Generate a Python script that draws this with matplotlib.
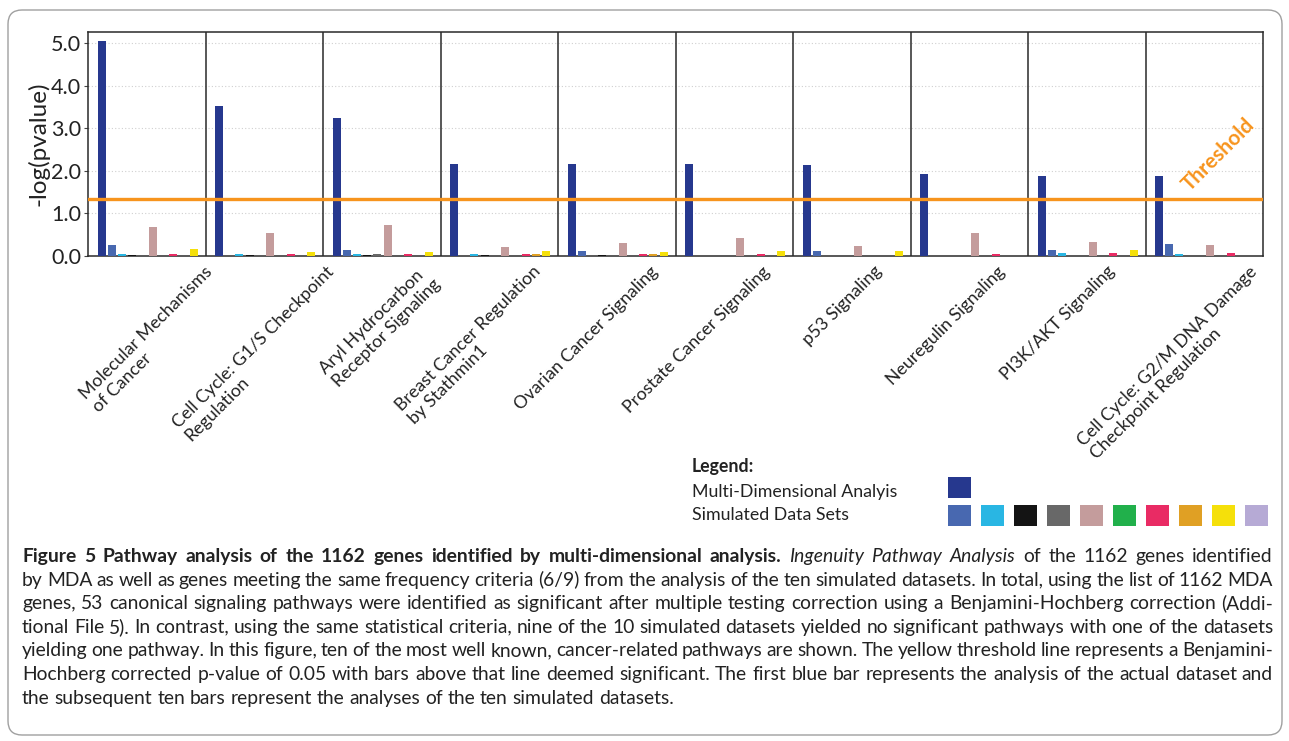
import matplotlib
matplotlib.use("Agg")
import matplotlib.pyplot as plt
from matplotlib.patches import FancyBboxPatch, Rectangle
from matplotlib.transforms import IdentityTransform
import numpy as np

FONT = "Lato"
plt.rcParams['font.family'] = [FONT, 'DejaVu Sans']

# ---------------- data ----------------
pathways = [
    "Molecular Mechanisms\nof Cancer",
    "Cell Cycle: G1/S Checkpoint\nRegulation",
    "Aryl Hydrocarbon\nReceptor Signaling",
    "Breast Cancer Regulation\nby Stathmin1",
    "Ovarian Cancer Signaling",
    "Prostate Cancer Signaling",
    "p53 Signaling",
    "Neuregulin Signaling",
    "PI3K/AKT Signaling",
    "Cell Cycle: G2/M DNA Damage\nCheckpoint Regulation",
]
mda_values = [5.05, 3.52, 3.23, 2.15, 2.15, 2.15, 2.13, 1.92, 1.89, 1.89]
sim_set_1 = [0.27, 0.00, 0.13, 0.00, 0.12, 0.00, 0.11, 0.00, 0.14, 0.28]
sim_set_2 = [0.05, 0.05, 0.05, 0.05, 0.00, 0.00, 0.00, 0.00, 0.06, 0.05]
sim_set_3 = [0.03, 0.03, 0.03, 0.03, 0.03, 0.00, 0.00, 0.00, 0.00, 0.00]
sim_set_4 = [0.00, 0.00, 0.05, 0.00, 0.00, 0.00, 0.00, 0.00, 0.00, 0.00]
sim_set_5 = [0.67, 0.55, 0.73, 0.22, 0.31, 0.42, 0.24, 0.55, 0.33, 0.25]
sim_set_6 = [0.00, 0.00, 0.00, 0.00, 0.00, 0.00, 0.00, 0.00, 0.00, 0.00]
sim_set_7 = [0.05, 0.05, 0.05, 0.05, 0.05, 0.05, 0.00, 0.05, 0.06, 0.06]
sim_set_8 = [0.00, 0.00, 0.00, 0.05, 0.05, 0.00, 0.00, 0.00, 0.00, 0.00]
sim_set_9 = [0.16, 0.10, 0.10, 0.12, 0.09, 0.12, 0.12, 0.00, 0.15, 0.00]
sim_set_10 = [0.00, 0.00, 0.00, 0.00, 0.00, 0.00, 0.00, 0.00, 0.00, 0.00]
threshold = 1.33
y_ticks = [0.0, 1.0, 2.0, 3.0, 4.0, 5.0]

mda_color = "#26388e"
sim_colors = ["#4868b0", "#29b6e3", "#141414", "#686868", "#c49c9c",
              "#21b04b", "#e92b64", "#e0a024", "#f5e00a", "#b6aad5"]
legend_title = "Legend:"
legend_mda = "Multi-Dimensional Analyis"
legend_sim = "Simulated Data Sets"

# label anchor offsets (layout, in group units, to top-right end of label)
label_dx = [0.49, 0.52, 0.32, 0.28, 0.28, 0.23, 0.19, 0.23, 0.17, 0.38]

caption = [
    [("Figure 5 Pathway analysis of the 1162 genes identified by multi-dimensional analysis.", "bold"),
     (" ", "normal"), ("Ingenuity Pathway Analysis", "italic"),
     (" of the 1162 genes identified", "normal")],
    [("by MDA as well as genes meeting the same frequency criteria (6/9) from the analysis of the ten simulated datasets. In total, using the list of 1162 MDA", "normal")],
    [("genes, 53 canonical signaling pathways were identified as significant after multiple testing correction using a Benjamini-Hochberg correction (Addi-", "normal")],
    [("tional File 5). In contrast, using the same statistical criteria, nine of the 10 simulated datasets yielded no significant pathways with one of the datasets", "normal")],
    [("yielding one pathway. In this figure, ten of the most well known, cancer-related pathways are shown. The yellow threshold line represents a Benjamini-", "normal")],
    [("Hochberg corrected p-value of 0.05 with bars above that line deemed significant. The first blue bar represents the analysis of the actual dataset and", "normal")],
    [("the subsequent ten bars represent the analyses of the ten simulated datasets.", "normal")],
]

# ---------------- figure ----------------
W, H = 1289, 741
fig = plt.figure(figsize=(W / 100, H / 100), dpi=100)
fig.patch.set_facecolor("white")

def px(x, y):
    return x / W, 1 - y / H

ax = fig.add_axes([88 / W, 1 - 256 / H, (1263 - 88) / W, (256 - 32) / H])
n = len(pathways)
series = [mda_values, sim_set_1, sim_set_2, sim_set_3, sim_set_4, sim_set_5,
          sim_set_6, sim_set_7, sim_set_8, sim_set_9, sim_set_10]
colors = [mda_color] + sim_colors
first_off, step, bw = 0.115, 0.087, 0.068
groups = np.arange(n)
for k, (vals, c) in enumerate(zip(series, colors)):
    ax.bar(groups + first_off + k * step, vals, width=bw, color=c, linewidth=0, zorder=3)

ax.set_xlim(0, n)
ax.set_ylim(0, 5.26)
ax.set_xticks([])
ax.set_yticks(y_ticks)
ax.set_yticklabels([f"{v:.1f}" for v in y_ticks], fontsize=15.5, color="#222222")
ax.tick_params(axis="y", length=3, width=0.8, color="#444444", pad=2)
for v in y_ticks[1:]:
    ax.axhline(v, color="#d0d0d0", lw=0.8, ls=(0, (1, 2)), zorder=1)
for i in range(1, n):
    ax.axvline(i, color="#2a2a2a", lw=1.1, zorder=4)
for s in ax.spines.values():
    s.set_color("#2a2a2a")
    s.set_linewidth(1.1)
ax.axhline(threshold, color="#f7941d", lw=2.4, zorder=5)
ax.text(9.62, 2.37, "Threshold", rotation=45, ha="center", va="center",
        fontsize=15, fontweight="bold", color="#f7941d", zorder=6)
ax.set_ylabel("-log(pvalue)", fontsize=17.5, color="#222222")
ax.yaxis.set_label_coords(-0.033, 0.5)

# category labels
for i, lab in enumerate(pathways):
    ax.text(i + 0.5 + label_dx[i], -0.17, lab, rotation=45, rotation_mode="anchor",
            ha="right", va="top", multialignment="left", fontsize=12.8,
            color="#222222", linespacing=1.2)

# legend
fig.text(*px(692, 467), legend_title, fontsize=12.8, fontweight="bold", va="center", color="#222222")
fig.text(*px(692, 492), legend_mda, fontsize=12.8, va="center", color="#222222")
fig.text(*px(692, 515), legend_sim, fontsize=12.8, va="center", color="#222222")
sq_w, sq_h = 23, 21
fig.add_artist(Rectangle((948, H - 498), sq_w, sq_h, transform=IdentityTransform(),
                         facecolor=mda_color, edgecolor="none"))
for j, c in enumerate(sim_colors):
    fig.add_artist(Rectangle((948 + 33 * j, H - 526), sq_w, sq_h, transform=IdentityTransform(),
                             facecolor=c, edgecolor="none"))

# border
fig.add_artist(FancyBboxPatch((8, 6), 1274, 725, boxstyle="round,pad=0,rounding_size=14",
                              transform=IdentityTransform(), fill=False,
                              edgecolor="#a0a0a0", lw=1.0))

# caption with justification
renderer = fig.canvas.get_renderer()
x_left, x_right = 22, 1273
cap_size = 14.5

def style_kw(st):
    if st == "bold":
        return dict(fontweight="bold")
    if st == "italic":
        return dict(fontstyle="italic")
    return {}

def tokenize(segments):
    toks = [[]]
    for text, st in segments:
        parts = text.split(" ")
        for j, p in enumerate(parts):
            if j > 0:
                toks.append([])
            if p:
                toks[-1].append((p, st))
    return [t for t in toks if t]

def measure(text, st, size):
    t = fig.text(0, 0, text, fontsize=size, **style_kw(st))
    w = t.get_window_extent(renderer).width
    t.remove()
    return w

line_tokens = [tokenize(seg) for seg in caption]
space_w = measure("a a", "normal", cap_size) - measure("aa", "normal", cap_size)
max_ratio = 0
for toks in line_tokens[:-1]:
    tw = sum(measure(p, st, cap_size) for tok in toks for p, st in tok)
    nat = tw + space_w * 0.8 * (len(toks) - 1)
    max_ratio = max(max_ratio, nat / (x_right - x_left))
if max_ratio > 1:
    cap_size = cap_size / max_ratio
space_w = measure("a a", "normal", cap_size) - measure("aa", "normal", cap_size)

base_y0, line_h = 562, 23.6
for li, toks in enumerate(line_tokens):
    widths = [[measure(p, st, cap_size) for p, st in tok] for tok in toks]
    tot = sum(sum(w) for w in widths)
    if li < len(line_tokens) - 1 and len(toks) > 1:
        gap = (x_right - x_left - tot) / (len(toks) - 1)
    else:
        gap = space_w
    x = x_left
    y = base_y0 + li * line_h
    for tok, ws in zip(toks, widths):
        for (p, st), w in zip(tok, ws):
            fig.text(x / W, 1 - y / H, p, fontsize=cap_size, va="baseline",
                     color="#222222", **style_kw(st))
            x += w
        x += gap

fig.savefig("out.png", dpi=100, facecolor="white")
